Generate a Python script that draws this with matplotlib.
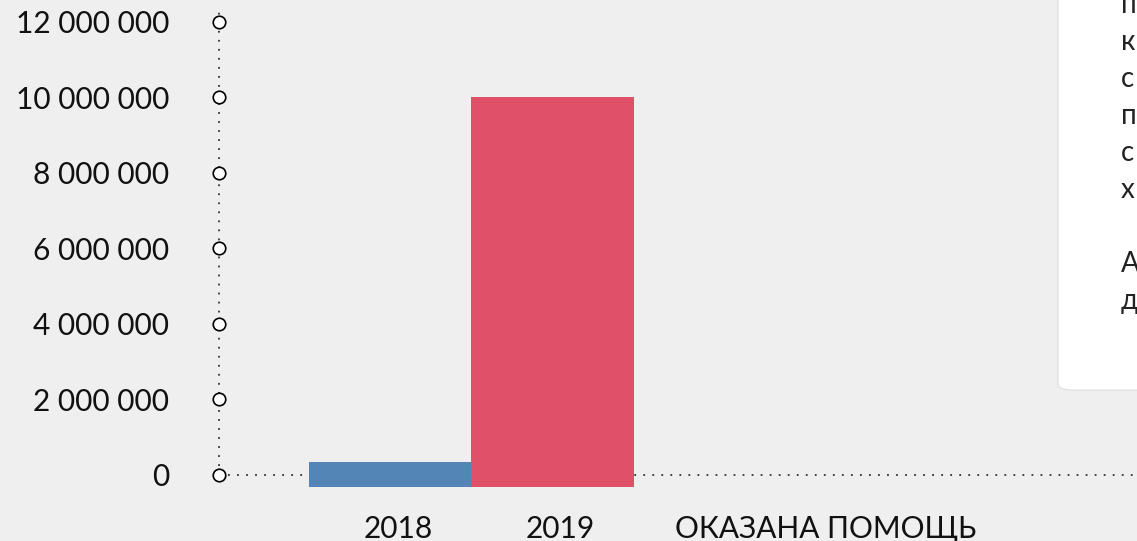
import numpy as np
import matplotlib.pyplot as plt
from matplotlib.patches import FancyBboxPatch

plt.rcParams['font.family'] = ['Lato', 'DejaVu Sans']

years = ['2018', '2019']
helped = [340000, 10000000]
bar_colors = ['#5386b6', '#e05069']
category = 'ОКАЗАНА ПОМОЩЬ'
yticks = [0, 2000000, 4000000, 6000000, 8000000, 10000000, 12000000]
ytick_labels = ['0', '2 000 000', '4 000 000', '6 000 000', '8 000 000', '10 000 000', '12 000 000']
# only the first letters of the side note are visible in the picture
side_text = ['п', 'к', 'с', 'п', 'с', 'х', '', 'А', 'д']

bg = '#efefef'
fig = plt.figure(figsize=(11.37, 5.41), dpi=100, facecolor=bg)
ax = fig.add_axes([0.1926, 0, 0.8074, 1])
ax.set_facecolor(bg)
ax.set_xlim(-0.052, 5.597)
ax.set_ylim(-1.748e6, 12.58e6)
for s in ax.spines.values():
    s.set_visible(False)
ax.set_xticks([])
ax.set_yticks(yticks)
ax.set_yticklabels(ytick_labels, fontsize=21.5, color='#111111')
ax.tick_params(axis='y', length=0, pad=36)

# bars hang a little below the zero line
base = -320000
x = np.arange(1, len(years) + 1)
ax.bar(x, np.array(helped) - base, bottom=base, width=1.0, color=bar_colors, zorder=2)

# dotted axis lines
xmin = ax.get_xlim()[0]
ax.plot([xmin, xmin], [0, 12.3e6], color='#333333', ls=(0, (1, 4)), lw=1.3, clip_on=False, zorder=1)
ax.plot([xmin, ax.get_xlim()[1]], [0, 0], color='#333333', ls=(0, (1, 4)), lw=1.3, clip_on=False, zorder=1)
ax.plot([xmin] * len(yticks), yticks, 'o', ms=9, mfc='white', mec='black', mew=1.2, clip_on=False, zorder=3)

for xi, yr in zip(x, years):
    ax.text(xi + 0.05, -1.42e6, yr, ha='center', va='center', fontsize=21.5, color='#111111')
ax.text(3.68, -1.42e6, category, ha='center', va='center', fontsize=21.5, color='#111111')

# white info panel on the right, mostly cut off
panel = FancyBboxPatch((1058 / 1137, 151 / 541), 0.2, 0.8, boxstyle='round,pad=0,rounding_size=0.012',
                       transform=fig.transFigure, facecolor='white', edgecolor='#dddddd', lw=0.8, zorder=5)
fig.patches.append(panel)
for i, t in enumerate(side_text):
    fig.text(1121 / 1137, 1 - (5 + 37 * i) / 541, t, fontsize=20, color='#222222',
             va='center', ha='left', zorder=6)

fig.savefig('out.png', dpi=100, facecolor=bg)
